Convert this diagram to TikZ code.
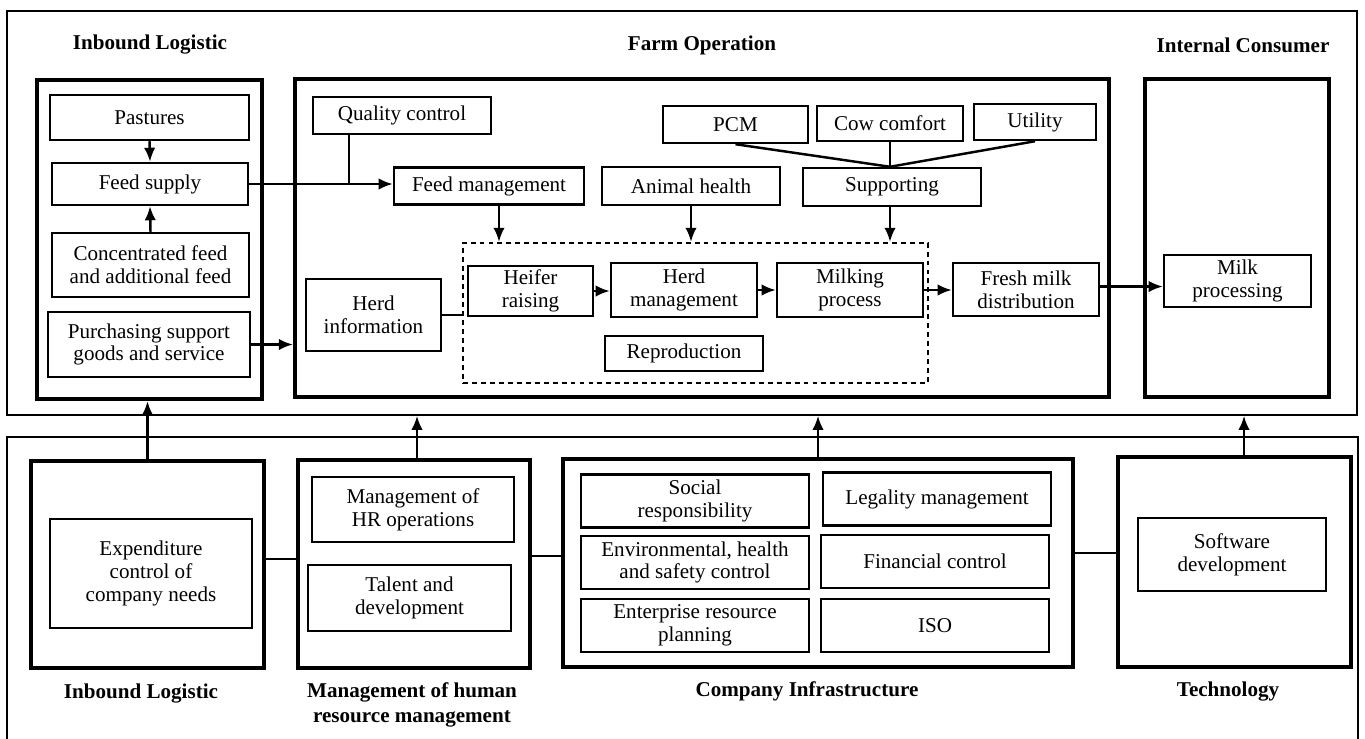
\documentclass[tikz,border=0pt]{standalone}
\usepackage{fontspec}
\setmainfont{Liberation Serif}
\usetikzlibrary{arrows.meta,positioning}

\begin{document}
\begin{tikzpicture}[x=0.02cm,y=-0.02cm,
      box/.style={draw,line width=1.4pt,align=center,inner sep=1pt,
                  font=\fontsize{12}{13}\selectfont},
      frame/.style={draw,line width=2.4pt},
      outer/.style={draw,line width=0.9pt},
      head/.style={align=center,font=\bfseries\fontsize{12}{14}\selectfont},
      link/.style={line width=1.4pt},
      arr/.style={link,-{Latex[length=8pt,width=6.5pt]}}]
    \useasboundingbox (0,0) rectangle (1365,738);
    % outer regions
    \node[outer,minimum width=27cm,minimum height=8.08cm] (topbox) at (682,213) {};
    \node[outer,minimum width=27.02cm,minimum height=6.16cm] (botbox) at (682.5,591) {};
    % primary activities
    \node[head] (hil) at (150,45) {Inbound Logistic};
    \node[head] (hfo) at (702,45) {Farm Operation};
    \node[head] (hic) at (1243,45) {Internal Consumer};
    \node[frame,minimum width=4.5cm,minimum height=6.38cm] (inb) at (149.5,239.5) {};
    \node[frame,minimum width=16.28cm,minimum height=6.36cm] (farm) at (702,238) {};
    \node[frame,minimum width=3.68cm,minimum height=6.36cm] (ic) at (1237,238) {};
    % inbound logistic
    \node[box,minimum width=3.98cm,minimum height=0.9cm] (pastures) at (149.5,117.5) {Pastures};
    \node[box,minimum width=3.92cm,minimum height=0.84cm] (feedsup) at (150,184) {Feed supply};
    \node[box,minimum width=3.94cm,minimum height=1.28cm] (conc) at (150.5,265) {Concentrated feed\\and additional feed};
    \node[box,minimum width=4.04cm,minimum height=1.3cm] (purch) at (149,344.5) {Purchasing support\\goods and service};
    % farm operation
    \node[box,minimum width=3.56cm,minimum height=0.74cm] (qc) at (402,115.5) {Quality control};
    \node[box,minimum width=3.8cm,minimum height=0.74cm] (feedm) at (489,186) {Feed management};
    \node[box,minimum width=3.56cm,minimum height=0.76cm] (animal) at (691,186) {Animal health};
    \node[box,minimum width=3.56cm,minimum height=0.76cm] (support) at (892,187) {Supporting};
    \node[box,minimum width=2.9cm,minimum height=0.74cm] (pcm) at (735.5,124.5) {PCM};
    \node[box,minimum width=2.92cm,minimum height=0.7cm] (cow) at (890,123.5) {Cow comfort};
    \node[box,minimum width=2.44cm,minimum height=0.72cm] (util) at (1035,122) {Utility};
    \node[draw,line width=1.3pt,dash pattern=on 2.8pt off 2.3pt,
          minimum width=9.3cm,minimum height=2.8cm] (dash) at (695.5,313) {};
    \node[box,minimum width=2.5cm,minimum height=1cm] (heifer) at (530.5,291) {Heifer\\raising};
    \node[box,minimum width=2.92cm,minimum height=1.08cm] (herdm) at (684,290) {Herd\\management};
    \node[box,minimum width=2.92cm,minimum height=1.08cm] (milk) at (850,290) {Milking\\process};
    \node[box,minimum width=2.92cm,minimum height=1.06cm] (fresh) at (1026,289.5) {Fresh milk\\distribution};
    \node[box,minimum width=3.16cm,minimum height=0.7cm] (repro) at (684,353.5) {Reproduction};
    \node[box,minimum width=2.7cm,minimum height=1.44cm] (herdinfo) at (373.5,315) {Herd\\information};
    \node[box,minimum width=2.94cm,minimum height=1.04cm] (milkproc) at (1237.5,281) {Milk\\processing};
    \coordinate (j) at (cow.south |- support.north);
    % flows in the primary part
    \draw[arr] (pastures.south) -- (feedsup.north);
    \draw[arr] (conc.north) -- (feedsup.south);
    \draw[arr] (purch.east) -- (purch.east -| farm.west);
    \draw[link] ([xshift=-1.06cm]qc.south) -- ([xshift=-1.06cm]qc.south |- feedsup.east);
    \draw[arr] (feedsup.east) -- (feedsup.east -| feedm.west);
    \draw[link] (pcm.south) -- (j);
    \draw[link] (cow.south) -- (j);
    \draw[link] (util.south) -- (j);
    \draw[arr] ([xshift=0.2cm]feedm.south) -- ([xshift=0.2cm]feedm.south |- dash.north);
    \draw[arr] (animal.south) -- (animal.south |- dash.north);
    \draw[arr] (j |- support.south) -- (j |- dash.north);
    \draw[link] (herdinfo.east) -- (herdinfo.east -| dash.west);
    \draw[arr] (heifer.east) -- (heifer.east -| herdm.west);
    \draw[arr] (herdm.east) -- (herdm.east -| milk.west);
    \draw[arr] (milk.east) -- (milk.east -| fresh.west);
    \draw[arr] ([yshift=0.06cm]fresh.east) -- ([yshift=0.06cm]fresh.east -| milkproc.west);
    % support activities
    \node[frame,minimum width=4.66cm,minimum height=4.14cm] (bil) at (147.5,564.5) {};
    \node[frame,minimum width=4.64cm,minimum height=4.16cm] (hr) at (414,564) {};
    \node[frame,minimum width=10.2cm,minimum height=4.16cm] (infra) at (818,563) {};
    \node[frame,minimum width=4.66cm,minimum height=4.2cm] (tech) at (1234.5,562) {};
    \node[box,minimum width=4.04cm,minimum height=2.18cm] (expend) at (151,573.5) {Expenditure\\control of\\company needs};
    \node[box,minimum width=4.04cm,minimum height=1.3cm] (hrops) at (413,509.5) {Management of\\HR operations};
    \node[box,minimum width=4.06cm,minimum height=1.32cm] (talent) at (409.5,598) {Talent and\\development};
    \foreach \n/\x/\y/\t in {social/695/501/{Social\\responsibility},
                             legal/937/499/{Legality management},
                             env/695/562.5/{Environmental, health\\and safety control},
                             fin/935/561.5/{Financial control},
                             erp/695/625.5/{Enterprise resource\\planning},
                             iso/935/625.5/{ISO}}
      \node[box,minimum width=4.56cm,minimum height=1.06cm] (\n) at (\x,\y) {\t};
    \node[box,minimum width=3.76cm,minimum height=1.46cm] (soft) at (1232,554.5) {Software\\development};
    \node[head] (bilt) at (141,693) {Inbound Logistic};
    \node[head] (hrt) at (412,705) {Management of human\\resource management};
    \node[head] (inft) at (807,691) {Company Infrastructure};
    \node[head] (techt) at (1228,691) {Technology};
    % links between support activities
    \draw[link] ([yshift=0.11cm]bil.east) -- ([yshift=0.11cm]bil.east -| hr.west);
    \draw[link] ([yshift=0.16cm]hr.east) -- ([yshift=0.16cm]hr.east -| infra.west);
    \draw[link] ([yshift=0.2cm]infra.east) -- ([yshift=0.2cm]infra.east -| tech.west);
    \draw[arr] (bil.north) -- (bil.north |- inb.south);
    \draw[arr] ([xshift=0.06cm]hr.north) -- ([xshift=0.06cm]hr.north |- topbox.south);
    \draw[arr] (infra.north) -- (infra.north |- topbox.south);
    \draw[arr] ([xshift=0.19cm]tech.north) -- ([xshift=0.19cm]tech.north |- topbox.south);
\end{tikzpicture}
\end{document}
